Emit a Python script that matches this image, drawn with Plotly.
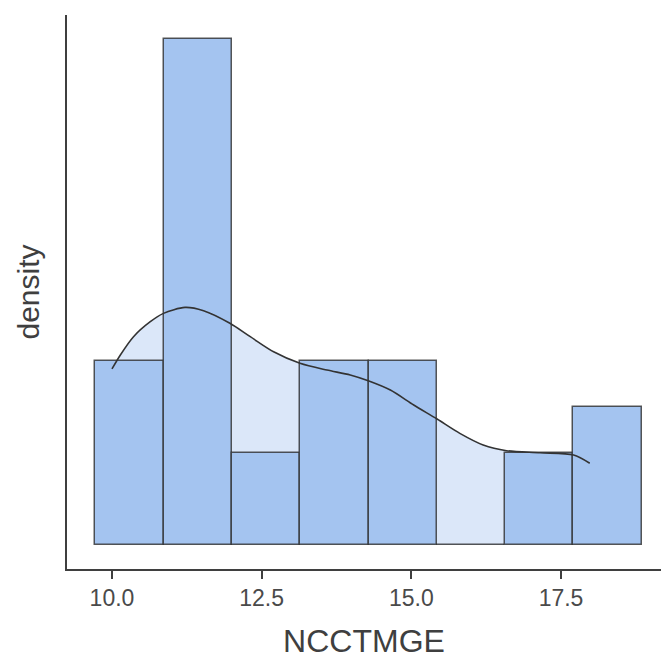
import plotly.graph_objects as go

# Histogram of NCCTMGE: bin edges and counts per bin
bin_edges = [9.721, 10.862, 12.003, 13.144, 14.285, 15.426, 16.567, 17.708, 18.849]
bin_counts = [4, 11, 2, 4, 4, 0, 2, 3]

# Kernel density estimate of NCCTMGE (x, density)
kde_x = [10.00, 10.14, 10.36, 10.64, 10.86, 11.22, 11.53, 11.97, 12.31, 12.70,
         13.14, 13.59, 13.98, 14.28, 14.65, 15.04, 15.43, 15.81, 16.20, 16.59,
         17.15, 17.71, 17.98]
kde_y = [0.1118, 0.1207, 0.1323, 0.1418, 0.1471, 0.1509, 0.1488, 0.1408, 0.1323, 0.1227,
         0.1154, 0.1111, 0.1080, 0.1043, 0.0984, 0.0889, 0.0800, 0.0709, 0.0635, 0.0599,
         0.0586, 0.0571, 0.0519]

x_ticks = [10.0, 12.5, 15.0, 17.5]
x_tick_labels = ["10.0", "12.5", "15.0", "17.5"]

n_obs = sum(bin_counts)
widths = [b - a for a, b in zip(bin_edges[:-1], bin_edges[1:])]
centers = [(a + b) / 2 for a, b in zip(bin_edges[:-1], bin_edges[1:])]
density = [c / (n_obs * w) for c, w in zip(bin_counts, widths)]

BAR_FILL = "#a4c4f0"
OUTLINE = "rgba(45,45,45,0.8)"
AXIS = "#3f3f3f"
TEXT = "#3f3f3f"
FONT = "Liberation Sans, Arial, sans-serif"

fig = go.Figure()

# Bars of the histogram (density scale)
fig.add_trace(go.Bar(
    x=centers, y=density, width=widths,
    marker=dict(color=BAR_FILL, line=dict(color=OUTLINE, width=1.5)),
    hoverinfo="skip", showlegend=False,
))

# Density curve drawn over the bars
fig.add_trace(go.Scatter(
    x=kde_x, y=kde_y, mode="lines",
    line=dict(color="#333333", width=1.6, shape="spline", smoothing=0.8),
    hoverinfo="skip", showlegend=False,
))

# Area under the density curve, placed beneath the bars
path = "M {},0 ".format(kde_x[0])
path += " ".join("L {},{}".format(x, y) for x, y in zip(kde_x, kde_y))
path += " L {},0 Z".format(kde_x[-1])
fig.add_shape(type="path", path=path, xref="x", yref="y", layer="below",
              fillcolor="rgba(164,196,240,0.4)", line=dict(width=0))

fig.update_layout(
    width=661, height=661,
    margin=dict(l=67, r=0, t=15, b=92),
    paper_bgcolor="white", plot_bgcolor="white",
    font=dict(family=FONT, color=TEXT),
    bargap=0,
    xaxis=dict(
        range=[9.249, 19.17],
        showgrid=False, zeroline=False,
        showline=True, linecolor=AXIS, linewidth=1.5,
        ticks="outside", ticklen=8, tickwidth=1.5, tickcolor=AXIS,
        tickvals=x_ticks, ticktext=x_tick_labels,
        tickfont=dict(size=23, color="#4a4a4a"),
        title=dict(text="NCCTMGE", font=dict(size=32, color=TEXT), standoff=19),
    ),
    yaxis=dict(
        range=[-0.01524, 0.3366],
        showgrid=False, zeroline=False,
        showline=True, linecolor=AXIS, linewidth=1.5,
        showticklabels=False, ticks="",
        title=dict(text="density", font=dict(size=30, color=TEXT), standoff=17),
    ),
)

fig.write_html("out.html")
